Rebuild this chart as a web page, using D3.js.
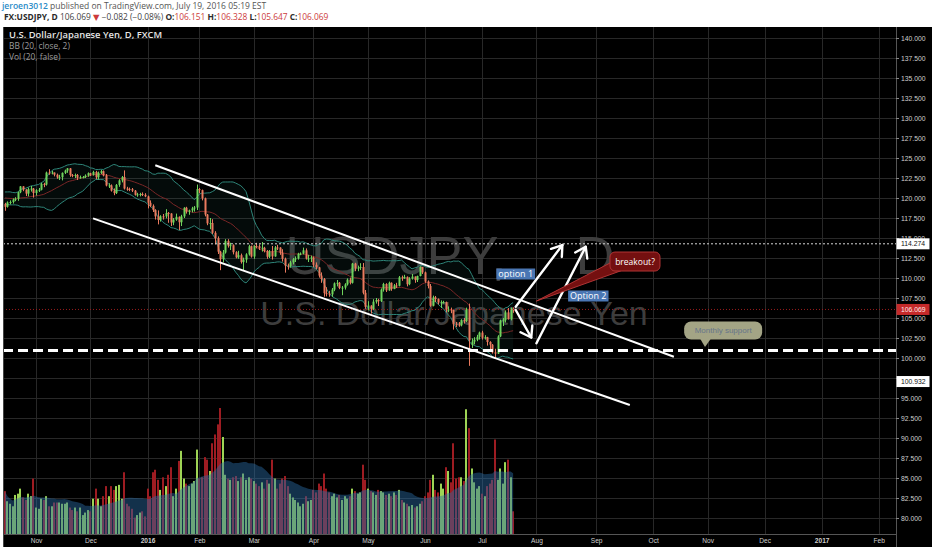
<!DOCTYPE html>
<html>
<head>
<meta charset="utf-8">
<title>USDJPY, D</title>
<script src="https://cdn.jsdelivr.net/npm/d3@7/dist/d3.min.js"></script>
<style>
  html, body { margin: 0; padding: 0; background: #ffffff; }
  svg { display: block; }
</style>
</head>
<body>
<svg id="chart" width="932" height="550"></svg>
<script>
// ---------- instrument ----------
const symbol = "USDJPY";
const interval = "D";
const description = "U.S. Dollar/Japanese Yen";

// ---------- trading calendar ----------
const firstSession = "2015-10-15";
const lastAxisSession = "2017-02-28";
const closedDays = ["2015-12-25", "2016-01-01"];

// ---------- daily prices, 15 Oct 2015 .. 19 Jul 2016 ----------
// closes before the first shown bar, used to seed the Bollinger Bands
const warmupClose = [120.05, 119.95, 120.50, 120.25, 120.20, 120.00, 120.55, 119.85, 119.85, 119.90,
  119.90, 119.88, 120.40, 120.20, 120.20, 119.95, 120.20, 120.10, 119.25];

const open = [
  119.25, 118.90, 119.45, 119.50, 119.80, 119.90, 120.72, 121.45, 121.05, 120.55, 121.10, 121.18,
  120.62, 120.98, 121.03, 121.76, 121.68, 123.18, 123.17, 123.18, 122.91, 122.57, 122.60, 123.14, 123.43, 123.70, 122.87, 122.79, 122.88, 122.52, 122.60, 122.62, 122.80,
  123.10, 122.90, 123.25, 122.59, 123.14, 123.35, 122.82, 121.56, 121.57, 120.92, 120.61, 121.64, 122.20, 122.62, 121.18, 121.13, 121.10, 120.92, 120.40, 120.45, 120.50, 120.40,
  120.20, 119.40, 119.02, 118.49, 117.70, 117.25, 117.71, 117.70, 118.13, 118.06, 116.94, 117.30, 117.65, 116.97, 117.70, 118.78, 118.29, 118.45, 118.70, 118.81,
  121.12, 120.98, 119.95, 117.93, 116.83, 116.87, 115.65, 114.98, 113.29, 112.35, 113.18, 114.62, 114.03, 114.10, 113.22, 112.58, 112.85, 111.99, 112.30, 112.95, 113.97,
  112.68, 114.00, 113.97, 113.72, 113.78, 113.38, 112.66, 113.31, 112.70, 113.82, 113.80, 113.15, 112.40, 111.55, 111.50, 111.95, 112.34, 112.44, 113.02, 113.05, 113.46, 112.43, 112.44,
  112.57, 111.65, 111.33, 110.30, 109.88, 108.10, 108.06, 107.95, 108.55, 109.33, 109.40, 108.75, 108.80, 109.20, 109.80, 109.40, 111.80, 111.18, 111.30, 111.38, 108.15,
  106.40, 106.55, 106.16, 107.04, 107.25, 107.10, 108.55, 109.25, 108.45, 109.40, 108.62, 109.07, 109.03, 110.09, 109.96, 110.14, 109.22, 109.92, 110.18, 109.74, 110.25, 111.37,
  110.70, 109.55, 109.00, 106.53, 107.58, 107.37, 106.93, 106.97, 106.98, 106.05, 106.06, 105.98, 104.22, 104.17, 104.09, 104.74, 104.63, 106.15, 101.65, 102.05, 102.28, 102.65,
  103.18, 102.52, 102.60, 102.00, 101.66, 100.70, 100.55, 102.70, 104.70, 104.72, 105.70, 104.85, 106.151
];
const high = [
  119.40, 119.58, 119.70, 119.95, 120.10, 120.80, 121.50, 121.48, 121.10, 121.30, 121.50, 121.25,
  121.10, 121.25, 121.90, 121.90, 123.30, 123.60, 123.40, 123.20, 123.05, 122.90, 123.20, 123.55, 123.75, 123.75, 123.00, 123.05, 123.00, 122.80, 122.75, 122.95, 123.20,
  123.15, 123.40, 123.40, 123.30, 123.50, 123.45, 123.00, 121.85, 121.70, 121.20, 121.75, 122.35, 122.75, 123.45, 121.40, 121.30, 121.25, 121.00, 120.65, 120.65, 120.70, 120.60,
  120.30, 119.70, 119.20, 118.60, 118.45, 117.85, 118.00, 118.60, 118.25, 118.10, 117.50, 118.05, 117.70, 117.90, 118.85, 118.90, 118.55, 118.90, 119.00, 121.68,
  121.25, 121.05, 120.05, 118.00, 117.50, 117.35, 115.85, 115.20, 113.40, 113.50, 114.85, 114.85, 114.40, 114.20, 113.35, 113.40, 113.05, 112.55, 113.10, 114.15, 114.05,
  114.10, 114.40, 114.20, 114.50, 113.90, 113.50, 113.50, 114.00, 114.00, 114.15, 113.85, 113.60, 112.55, 111.80, 112.15, 112.50, 112.70, 113.15, 113.20, 113.80, 113.70, 112.90, 112.80,
  112.70, 111.95, 111.40, 110.70, 110.00, 108.85, 108.40, 108.75, 109.45, 109.75, 109.50, 109.00, 109.35, 109.95, 110.05, 111.90, 111.90, 111.55, 111.85, 111.88, 108.50,
  107.10, 106.60, 107.35, 107.50, 107.40, 108.70, 109.40, 109.35, 109.55, 109.45, 109.25, 109.40, 110.25, 110.30, 110.40, 110.20, 110.10, 110.50, 110.20, 110.30, 111.45, 111.40,
  110.80, 109.70, 109.25, 107.80, 107.75, 107.45, 107.20, 107.15, 107.05, 106.45, 106.30, 106.05, 104.50, 104.50, 104.85, 105.00, 106.30, 106.80, 102.45, 102.60, 102.90, 103.30,
  103.40, 102.85, 102.65, 102.10, 101.75, 101.15, 102.85, 104.80, 105.00, 105.95, 106.25, 106.30, 106.328
];
const low = [
  118.40, 118.80, 119.20, 119.30, 119.60, 119.65, 120.60, 120.85, 120.25, 120.20, 120.80, 120.05,
  120.30, 120.75, 120.95, 121.35, 121.55, 122.90, 122.95, 122.70, 122.40, 122.25, 122.20, 123.00, 123.15, 122.65, 122.60, 122.50, 122.25, 122.40, 122.45, 122.50, 122.65,
  122.75, 122.80, 122.35, 122.30, 123.00, 122.70, 121.45, 121.25, 120.80, 120.35, 120.50, 121.40, 121.95, 121.06, 120.90, 120.85, 120.75, 120.30, 120.15, 120.20, 120.25, 120.10,
  118.70, 118.85, 118.25, 117.30, 116.70, 117.05, 117.30, 117.45, 116.90, 116.50, 116.60, 117.15, 115.98, 116.50, 117.50, 118.05, 117.90, 118.20, 118.30, 118.50,
  120.60, 119.70, 117.70, 116.60, 116.10, 115.50, 114.20, 113.00, 110.98, 111.95, 113.05, 113.80, 113.50, 112.95, 112.45, 112.40, 111.80, 110.99, 111.90, 112.80, 112.55,
  112.40, 113.70, 113.50, 113.30, 113.20, 112.40, 112.50, 112.30, 112.65, 113.50, 112.90, 112.05, 110.67, 111.05, 111.30, 111.70, 112.00, 112.30, 112.85, 112.95, 112.30, 112.00, 112.00,
  111.35, 111.10, 110.05, 109.40, 107.66, 107.70, 107.65, 107.65, 108.35, 108.95, 108.60, 107.85, 108.55, 109.05, 109.20, 109.30, 110.85, 110.85, 111.00, 107.95, 106.15,
  105.95, 105.55, 106.00, 106.80, 106.50, 107.00, 108.30, 108.25, 108.40, 108.40, 108.60, 108.75, 108.95, 109.65, 109.90, 108.95, 109.10, 109.80, 109.40, 109.50, 110.20, 110.50,
  109.40, 108.70, 106.40, 106.45, 107.00, 106.70, 106.25, 106.80, 105.70, 105.75, 105.60, 103.55, 103.85, 103.90, 103.95, 104.30, 104.50, 99.02, 101.25, 101.70, 102.10, 102.30,
  102.30, 102.30, 101.55, 100.95, 100.55, 99.99, 100.50, 102.60, 104.00, 104.45, 104.80, 104.70, 105.647
];
const close = [
  118.90, 119.45, 119.50, 119.80, 119.90, 120.72, 121.45, 121.05, 120.55, 121.10, 121.18, 120.62,
  120.98, 121.03, 121.76, 121.68, 123.18, 123.17, 123.18, 122.91, 122.57, 122.60, 123.14, 123.43, 123.70, 122.87, 122.79, 122.88, 122.52, 122.60, 122.62, 122.80, 123.10,
  122.90, 123.25, 122.59, 123.14, 123.35, 122.82, 121.56, 121.57, 120.92, 120.61, 121.64, 122.20, 122.62, 121.18, 121.13, 121.10, 120.92, 120.40, 120.45, 120.50, 120.40, 120.20,
  119.40, 119.02, 118.49, 117.70, 117.25, 117.71, 117.70, 118.13, 118.06, 116.94, 117.30, 117.65, 116.97, 117.70, 118.78, 118.29, 118.45, 118.70, 118.81, 121.12,
  120.98, 119.95, 117.93, 116.83, 116.87, 115.65, 114.98, 113.29, 112.35, 113.18, 114.62, 114.03, 114.10, 113.22, 112.58, 112.85, 111.99, 112.30, 112.95, 113.97, 112.68,
  114.00, 113.97, 113.72, 113.78, 113.38, 112.66, 113.31, 112.70, 113.82, 113.80, 113.15, 112.40, 111.55, 111.50, 111.95, 112.34, 112.44, 113.02, 113.05, 113.46, 112.43, 112.44, 112.57,
  111.65, 111.33, 110.30, 109.88, 108.10, 108.06, 107.95, 108.55, 109.33, 109.40, 108.75, 108.80, 109.20, 109.80, 109.40, 111.80, 111.18, 111.30, 111.38, 108.15, 106.40,
  106.55, 106.16, 107.04, 107.25, 107.10, 108.55, 109.25, 108.45, 109.40, 108.62, 109.07, 109.03, 110.09, 109.96, 110.14, 109.22, 109.92, 110.18, 109.74, 110.25, 111.37, 110.70,
  109.55, 109.00, 106.53, 107.58, 107.37, 106.93, 106.97, 106.98, 106.05, 106.06, 105.98, 104.22, 104.17, 104.09, 104.74, 104.63, 106.15, 102.22, 102.05, 102.28, 102.65, 103.18,
  102.52, 102.60, 102.00, 101.66, 100.70, 100.55, 102.70, 104.70, 104.72, 105.70, 104.85, 106.20, 106.069
];
// volume, relative units
const volume = [
  34, 26, 24, 22, 31, 32, 36, 29, 27, 32, 30, 44,
  21, 20, 28, 27, 30, 22, 22, 25, 25, 25, 24, 24, 25, 21, 19, 21, 18, 21, 15, 17, 19,
  18, 28, 36, 28, 22, 30, 38, 30, 38, 35, 38, 39, 28, 49, 24, 22, 20, 13, 15, 17, 18, 14,
  36, 30, 49, 51, 43, 35, 45, 38, 47, 53, 30, 36, 58, 66, 44, 40, 38, 40, 42, 67,
  44, 45, 61, 59, 50, 72, 79, 87, 100, 77, 47, 44, 43, 45, 46, 42, 45, 48, 43, 45, 44,
  42, 40, 38, 41, 36, 43, 40, 59, 44, 36, 40, 44, 46, 38, 32, 29, 27, 25, 22, 24, 30, 26, 27,
  35, 33, 40, 38, 48, 36, 33, 30, 32, 29, 31, 27, 30, 28, 30, 36, 34, 32, 33, 55, 43,
  36, 34, 33, 31, 35, 34, 33, 31, 32, 30, 33, 31, 35, 27, 25, 24, 22, 23, 21, 22, 24, 26,
  30, 33, 43, 47, 35, 33, 40, 36, 53, 50, 41, 72, 44, 45, 45, 42, 99, 84, 52, 41, 36, 38,
  32, 30, 38, 40, 43, 75, 43, 52, 40, 57, 59, 45, 18
];

// ---------- price scale ticks and levels ----------
const priceTicks = d3.range(80, 140.001, 2.5);
const lastPrice = 106.069;
const resistanceLevel = 114.274;
const supportLevel = 100.932;

// ---------- drawings, anchored to [session, price] ----------
const upperChannel = [["2016-01-07", 124.10], ["2016-10-13", 100.15]];
const lowerChannel = [["2015-12-02", 117.46], ["2016-09-20", 94.13]];
const arrowPaths = [
  [["2016-07-20", 106.40], ["2016-08-15", 114.12]],
  [["2016-07-20", 106.00], ["2016-07-28", 102.56]],
  [["2016-08-01", 101.84], ["2016-08-26", 113.91]]
];
const tags = [
  { text: "option 1", at: ["2016-07-20", 110.50] },
  { text: "Option 2", at: ["2016-08-29", 107.75] }
];
const breakoutNote = { text: "breakout?", at: ["2016-09-22", 112.06], tip: ["2016-08-01", 107.12] };
const supportNote = { text: "Monthly support", at: ["2016-11-09", 103.44], tip: ["2016-10-31", 101.38] };

// ---------- sessions ----------
const parseDay = d3.utcParse("%Y-%m-%d");
const dayKey = d3.utcFormat("%Y-%m-%d");
const closedSet = new Set(closedDays);
const sessions = d3.utcDay.range(parseDay(firstSession), d3.utcDay.offset(parseDay(lastAxisSession), 1))
  .filter(d => d.getUTCDay() > 0 && d.getUTCDay() < 6 && !closedSet.has(dayKey(d)));
const sessionIndex = new Map(sessions.map((d, i) => [dayKey(d), i]));
const idx = s => sessionIndex.get(s);

const bars = close.map((c, i) => ({ i, o: open[i], h: high[i], l: low[i], c, v: volume[i] }));
const monthTicks = sessions.map((d, i) => i)
  .filter(i => i > 0 && sessions[i].getUTCMonth() !== sessions[i - 1].getUTCMonth());

// ---------- layout and scales ----------
const W = 932, H = 550;
const pane = { left: 3, right: 896, top: 27, bottom: 534 };
const x = d3.scaleLinear().domain([-0.73, 343.66]).range([pane.left, pane.right]);
const y = d3.scaleLinear().domain([78, 141.375]).range([pane.bottom, pane.top]);
const yVol = d3.scaleLinear().domain([0, 100]).range([pane.bottom, 408]);
const pt = ([s, p]) => [x(idx(s)), y(p)];

// ---------- indicators ----------
const seeded = warmupClose.concat(close);
const bb = close.map((c, i) => {
  const end = i + warmupClose.length;
  const win = seeded.slice(end - 19, end + 1);
  const m = d3.mean(win);
  const sd = Math.sqrt(d3.mean(win, v => (v - m) * (v - m)));
  return { i, mid: m, up: m + 2 * sd, lo: m - 2 * sd };
});
const volMA = volume.map((v, i) => ({ i, m: d3.mean(volume.slice(Math.max(0, i - 19), i + 1)) }));

// ---------- colours ----------
const upCandle = "#6fd35c", downCandle = "#ea7a5e";
const upVol = "#9ed455", downVol = "#9e1c22";
const gridColor = "#282828";

const svg = d3.select("#chart");
const uiFont = "'Open Sans', 'DejaVu Sans', sans-serif";
const axFont = "'Liberation Sans', Arial, sans-serif";

svg.append("rect").attr("width", W).attr("height", H).attr("fill", "#ffffff");
svg.append("rect").attr("x", pane.left).attr("y", pane.top)
  .attr("width", W - pane.left).attr("height", 547 - pane.top).attr("fill", "#000000");

svg.append("defs").append("clipPath").attr("id", "paneClip").append("rect")
  .attr("x", pane.left).attr("y", pane.top)
  .attr("width", pane.right - pane.left).attr("height", pane.bottom - pane.top);

const plot = svg.append("g").attr("clip-path", "url(#paneClip)");

// grid
plot.append("g").selectAll("line").data(priceTicks).join("line")
  .attr("x1", pane.left).attr("x2", pane.right)
  .attr("y1", d => Math.round(y(d)) + 0.5).attr("y2", d => Math.round(y(d)) + 0.5)
  .attr("stroke", gridColor);
plot.append("g").selectAll("line").data(monthTicks).join("line")
  .attr("y1", pane.top).attr("y2", pane.bottom)
  .attr("x1", d => Math.round(x(d)) + 0.5).attr("x2", d => Math.round(x(d)) + 0.5)
  .attr("stroke", gridColor);

// watermark
plot.append("text").attr("x", 450).attr("y", 274).attr("text-anchor", "middle")
  .attr("font-family", axFont).attr("font-size", 54).attr("word-spacing", 54)
  .attr("fill", "#3d3d3d").text(`${symbol}, ${interval}`);
plot.append("text").attr("x", 454).attr("y", 325).attr("text-anchor", "middle")
  .attr("font-family", axFont).attr("font-size", 34)
  .attr("fill", "#3d3d3d").text(description);

// Bollinger Bands (20, close, 2)
plot.append("path").datum(bb)
  .attr("d", d3.area().x(d => x(d.i)).y0(d => y(d.lo)).y1(d => y(d.up)))
  .attr("fill", "rgba(50,140,128,0.08)");
[["up", "#2e8579"], ["lo", "#2e8579"], ["mid", "#7a2626"]].forEach(([k, c]) => {
  plot.append("path").datum(bb)
    .attr("d", d3.line().x(d => x(d.i)).y(d => y(d[k])))
    .attr("fill", "none").attr("stroke", c).attr("stroke-width", 1);
});

// volume histogram and its 20-bar average
plot.append("g").selectAll("rect").data(bars).join("rect")
  .attr("x", d => Math.round(x(d.i)) - 1).attr("width", 2)
  .attr("y", d => yVol(d.v)).attr("height", d => yVol(0) - yVol(d.v))
  .attr("fill", d => d.c >= d.o ? upVol : downVol);
plot.append("path").datum(volMA)
  .attr("d", d3.area().x(d => x(d.i)).y0(yVol(0)).y1(d => yVol(d.m)))
  .attr("fill", "#2a6ca6").attr("fill-opacity", 0.45);

// candles
const candles = plot.append("g").selectAll("g").data(bars).join("g");
candles.append("line")
  .attr("x1", d => Math.round(x(d.i)) + 0.5).attr("x2", d => Math.round(x(d.i)) + 0.5)
  .attr("y1", d => y(d.h)).attr("y2", d => y(d.l))
  .attr("stroke", d => d.c >= d.o ? upCandle : downCandle).attr("stroke-width", 1);
candles.append("rect")
  .attr("x", d => Math.round(x(d.i)) - 0.5).attr("width", 2)
  .attr("y", d => y(Math.max(d.o, d.c)))
  .attr("height", d => Math.max(1, Math.abs(y(d.o) - y(d.c))))
  .attr("fill", d => d.c >= d.o ? upCandle : downCandle);

// horizontal levels
const hline = (v, stroke, w, dash) => plot.append("line")
  .attr("x1", pane.left).attr("x2", pane.right).attr("y1", y(v)).attr("y2", y(v))
  .attr("stroke", stroke).attr("stroke-width", w).attr("stroke-dasharray", dash);
hline(lastPrice, "#991c1c", 1, "1,2");
hline(resistanceLevel, "#d8d8d8", 1, "2,2");
hline(supportLevel, "#ffffff", 3, "10,5");

// channel
const seg = d3.line();
[upperChannel, lowerChannel].forEach(c => {
  plot.append("path").attr("d", seg(c.map(pt)))
    .attr("stroke", "#ffffff").attr("stroke-width", 2).attr("fill", "none");
});

// arrows
arrowPaths.forEach(a => {
  const [p0, p1] = a.map(pt);
  const ang = Math.atan2(p1[1] - p0[1], p1[0] - p0[0]);
  const len = 12, spread = 0.6;
  const head = [
    [p1[0] - len * Math.cos(ang - spread), p1[1] - len * Math.sin(ang - spread)],
    p1,
    [p1[0] - len * Math.cos(ang + spread), p1[1] - len * Math.sin(ang + spread)]
  ];
  plot.append("path").attr("d", seg([p0, p1])).attr("stroke", "#fff").attr("stroke-width", 2.4)
    .attr("fill", "none").attr("stroke-linecap", "round");
  plot.append("path").attr("d", seg(head)).attr("stroke", "#fff").attr("stroke-width", 2.4)
    .attr("fill", "none").attr("stroke-linecap", "round").attr("stroke-linejoin", "round");
});

// breakout callout
{
  const [cx, cy] = pt(breakoutNote.at);
  const [tx, ty] = pt(breakoutNote.tip);
  const bw = 50, bh = 19;
  const bx = cx - bw / 2, by = cy - bh / 2;
  plot.append("path")
    .attr("d", seg([[bx + 2, by + 10], [tx, ty], [bx + 13, by + bh - 1]]) + "Z")
    .attr("fill", "#741010").attr("stroke", "#b03434").attr("stroke-width", 1);
  plot.append("rect").attr("x", bx).attr("y", by).attr("width", bw).attr("height", bh)
    .attr("rx", 5).attr("fill", "#741010").attr("stroke", "#b03434").attr("stroke-width", 1);
  plot.append("path").attr("d", seg([[bx + 3, by + 10.5], [bx + 12, by + bh - 1.5]]))
    .attr("stroke", "#741010").attr("stroke-width", 2);
  plot.append("text").attr("x", cx).attr("y", cy + 3).attr("text-anchor", "middle")
    .attr("font-family", uiFont).attr("font-size", 8.5).attr("fill", "#ffffff")
    .text(breakoutNote.text);
}

// option tags
tags.forEach(t => {
  const [cx, cy] = pt(t.at);
  const g = plot.append("g");
  const txt = g.append("text").attr("x", cx).attr("y", cy + 3.2).attr("text-anchor", "middle")
    .attr("font-family", uiFont).attr("font-size", 9).attr("fill", "#ffffff").text(t.text);
  const w = txt.node().getComputedTextLength() + 4;
  g.insert("rect", "text").attr("x", cx - w / 2).attr("y", cy - 5.5).attr("width", w).attr("height", 11)
    .attr("fill", "#4a76b3");
});

// monthly support callout
{
  const [cx, cy] = pt(supportNote.at);
  const [tx, ty] = pt(supportNote.tip);
  const bw = 78, bh = 18;
  const bx = cx - bw / 2, by = cy - bh / 2;
  plot.append("path")
    .attr("d", seg([[tx - 5, by + bh - 1], [tx, ty], [tx + 6, by + bh - 1]]) + "Z")
    .attr("fill", "#a3a485");
  plot.append("rect").attr("x", bx).attr("y", by).attr("width", bw).attr("height", bh)
    .attr("rx", 7).attr("fill", "#a3a485");
  plot.append("text").attr("x", cx).attr("y", cy + 3).attr("text-anchor", "middle")
    .attr("font-family", axFont).attr("font-size", 8).attr("fill", "#66758a")
    .text(supportNote.text);
}

// pane borders
svg.append("line").attr("x1", pane.right + 0.5).attr("x2", pane.right + 0.5)
  .attr("y1", pane.top).attr("y2", 547).attr("stroke", "#555");
svg.append("line").attr("x1", pane.left).attr("x2", pane.right)
  .attr("y1", pane.bottom + 0.5).attr("y2", pane.bottom + 0.5).attr("stroke", "#555");
svg.append("line").attr("x1", pane.left + 0.5).attr("x2", pane.left + 0.5)
  .attr("y1", pane.top).attr("y2", 547).attr("stroke", "#444");

// price axis
const yAxis = svg.append("g").attr("transform", `translate(${pane.right},0)`)
  .call(d3.axisRight(y).tickValues(priceTicks).tickSize(3).tickPadding(2).tickFormat(d3.format(".3f")));
yAxis.select(".domain").remove();
yAxis.selectAll(".tick line").attr("stroke", "#888");
yAxis.selectAll(".tick text").attr("fill", "#cfcfcf").attr("font-family", axFont).attr("font-size", 6.8);

// price labels on the axis
const axisLabel = (v, cy, bg, fg) => {
  const g = svg.append("g");
  g.append("rect").attr("x", pane.right + 0.5).attr("y", cy - 5.5).attr("width", 33).attr("height", 11).attr("fill", bg);
  g.append("text").attr("x", pane.right + 5).attr("y", cy + 2.4).attr("font-family", axFont)
    .attr("font-size", 6.8).attr("fill", fg).text(d3.format(".3f")(v));
};
axisLabel(resistanceLevel, y(resistanceLevel), "#ffffff", "#111111");
axisLabel(lastPrice, y(lastPrice), "#c62a2a", "#ffe9e9");
axisLabel(supportLevel, y(supportLevel) + 31, "#ffffff", "#111111");

// time axis
const fmtMonth = d3.utcFormat("%b"), fmtYear = d3.utcFormat("%Y");
const xAxis = svg.append("g").attr("transform", `translate(0,${pane.bottom})`)
  .call(d3.axisBottom(x).tickValues(monthTicks).tickSize(0).tickPadding(4)
    .tickFormat(i => sessions[i].getUTCMonth() === 0 ? fmtYear(sessions[i]) : fmtMonth(sessions[i])));
xAxis.select(".domain").remove();
xAxis.selectAll(".tick text").attr("fill", "#cfcfcf").attr("font-family", axFont).attr("font-size", 6.6)
  .attr("font-weight", i => sessions[i].getUTCMonth() === 0 ? "bold" : "normal");

// legend inside the pane
const legend = svg.append("g").attr("font-family", uiFont);
legend.append("text").attr("x", 9).attr("y", 38).attr("font-size", 9.4).attr("font-weight", 600)
  .attr("fill", "#e6e6e6").text(`${description}, ${interval}, FXCM`);
legend.append("text").attr("x", 9).attr("y", 49).attr("font-size", 8.4).attr("fill", "#9d9d9d")
  .text("BB (20, close, 2)");
legend.append("text").attr("x", 9).attr("y", 60).attr("font-size", 8.4).attr("fill", "#9d9d9d")
  .text("Vol (20, false)");

// header
const head1 = svg.append("text").attr("x", 2).attr("y", 9).attr("font-family", uiFont).attr("font-size", 8.5);
head1.append("tspan").attr("fill", "#2b8cc7").attr("font-weight", 600).text("jeroen3012");
head1.append("tspan").attr("fill", "#555").text(" published on TradingView.com, July 19, 2016 05:19 EST");

const red = "#cc3b3b";
const head2 = svg.append("text").attr("x", 4).attr("y", 20).attr("font-family", uiFont).attr("font-size", 8.4).attr("fill", "#444");
const span = (t, o = {}) => head2.append("tspan").attr("fill", o.fill || "#444").attr("font-weight", o.bold ? "bold" : "normal").text(t);
span(`FX:${symbol}, ${interval}`, { bold: true, fill: "#2a2a2a" });
span(` ${d3.format(".3f")(lastPrice)} `);
span("▼", { fill: red });
span(" \u22120.082 (\u22120.08%) ");
span("O:", { bold: true, fill: "#2a2a2a" }); span(d3.format(".3f")(open[open.length - 1]), { fill: red });
span(" H:", { bold: true, fill: "#2a2a2a" }); span(d3.format(".3f")(high[high.length - 1]), { fill: red });
span(" L:", { bold: true, fill: "#2a2a2a" }); span(d3.format(".3f")(low[low.length - 1]), { fill: red });
span(" C:", { bold: true, fill: "#2a2a2a" }); span(d3.format(".3f")(close[close.length - 1]), { fill: red });
</script>
</body>
</html>
